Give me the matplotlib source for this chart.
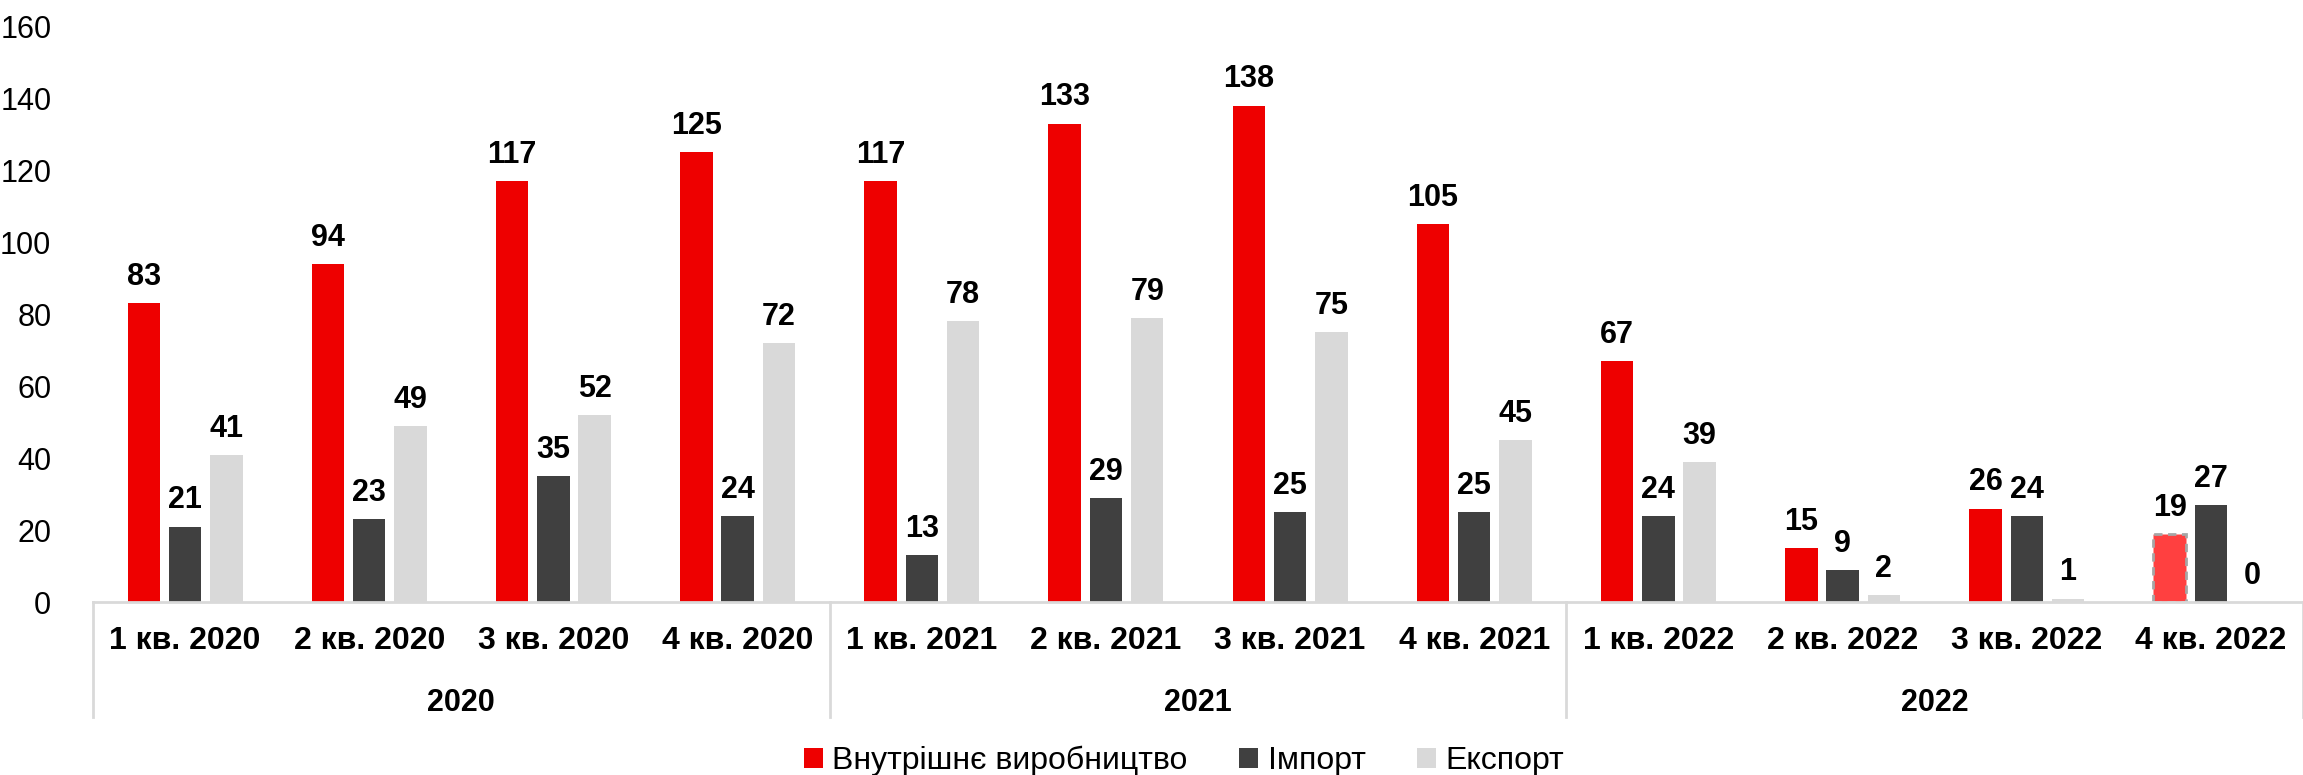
import numpy as np
import matplotlib
matplotlib.use('Agg')
import matplotlib.pyplot as plt
import matplotlib.transforms as mtransforms

# дані
quarters = ['1 кв. 2020', '2 кв. 2020', '3 кв. 2020', '4 кв. 2020',
            '1 кв. 2021', '2 кв. 2021', '3 кв. 2021', '4 кв. 2021',
            '1 кв. 2022', '2 кв. 2022', '3 кв. 2022', '4 кв. 2022']
years = ['2020', '2021', '2022']
domestic = [83, 94, 117, 125, 117, 133, 138, 105, 67, 15, 26, 19]
imports = [21, 23, 35, 24, 13, 29, 25, 25, 24, 9, 24, 27]
exports = [41, 49, 52, 72, 78, 79, 75, 45, 39, 2, 1, 0]
series_names = ['Внутрішнє виробництво', 'Імпорт', 'Експорт']

plt.rcParams['font.family'] = ['Liberation Sans', 'DejaVu Sans']

fig = plt.figure(figsize=(23.03, 7.75), dpi=100)
ax = fig.add_axes([0.0404, 0.223, 0.9596, 0.743])

x = np.arange(len(quarters))
w = 0.176
step = 0.224
colors = ['#EE0000', '#404040', '#D9D9D9']

bars_d = ax.bar(x - step, domestic, w, color=colors[0], label=series_names[0])
bars_i = ax.bar(x, imports, w, color=colors[1], label=series_names[1])
bars_e = ax.bar(x + step, exports, w, color=colors[2], label=series_names[2])

# останній квартал - оцінка
last = bars_d[-1]
last.set_facecolor('#FF4040')
last.set_edgecolor('#A6A6A6')
last.set_linestyle((0, (3, 2)))
last.set_linewidth(2)

for bars in (bars_d, bars_i, bars_e):
    for b in bars:
        h = b.get_height()
        ax.annotate(f'{h:.0f}', (b.get_x() + b.get_width() / 2, h),
                    xytext=(0, 8), textcoords='offset points',
                    ha='center', va='bottom', fontsize=22, fontweight='bold')

ax.set_ylim(0, 160)
ax.set_yticks(range(0, 161, 20))
ax.set_xlim(-0.5, len(quarters) - 0.5)
ax.set_xticks(x)
ax.set_xticklabels(quarters, fontsize=23, fontweight='bold')
ax.tick_params(axis='x', length=0, pad=17)
ax.tick_params(axis='y', length=0, labelsize=22, pad=30)

for s in ['top', 'right', 'left']:
    ax.spines[s].set_visible(False)
ax.spines['bottom'].set_color('#D9D9D9')
ax.spines['bottom'].set_linewidth(2)

# роки під кварталами
trans = mtransforms.blended_transform_factory(ax.transData, ax.transAxes)
for k in range(len(years) + 1):
    xs = -0.5 + 4 * k
    ax.plot([xs, xs], [0, -0.2], transform=trans, color='#D9D9D9', lw=2, clip_on=False)
for k, yr in enumerate(years):
    ax.text(1.5 + 4 * k, -0.175, yr, transform=trans, ha='center', va='center',
            fontsize=22, fontweight='bold')

fig.legend(loc='center', bbox_to_anchor=(0.514, 0.018), ncol=3, frameon=False,
           fontsize=23, handlelength=0.6, handleheight=0.6,
           columnspacing=1.6, handletextpad=0.3)

fig.savefig('out.png', dpi=100)
